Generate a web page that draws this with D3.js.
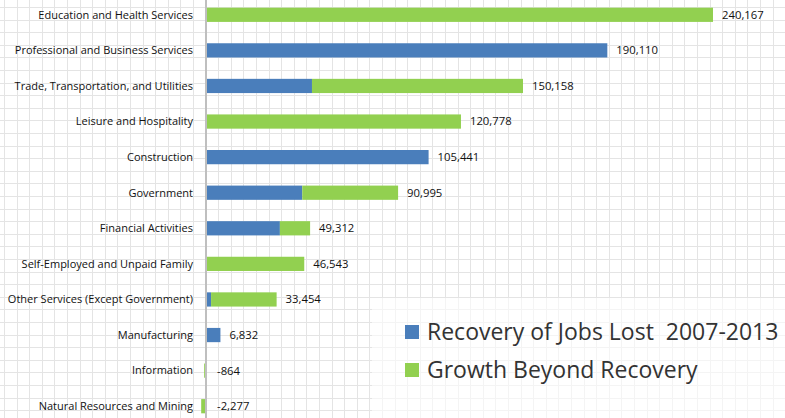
<!DOCTYPE html>
<html>
<head>
<meta charset="utf-8">
<script src="https://cdn.jsdelivr.net/npm/d3@7"></script>
<style>
  body { margin: 0; background: #fff; }
  svg { display: block; font-family: "Open Sans", "Noto Sans", sans-serif; }
  .legend text { white-space: pre; }
</style>
</head>
<body>
<script>
// industries, top to bottom
const categories = [
  "Education and Health Services",
  "Professional and Business Services",
  "Trade, Transportation, and Utilities",
  "Leisure and Hospitality",
  "Construction",
  "Government",
  "Financial Activities",
  "Self-Employed and Unpaid Family",
  "Other Services (Except Government)",
  "Manufacturing",
  "Information",
  "Natural Resources and Mining"
];
// blue part: recovery of jobs lost 2007-2013
const recovery = [0, 190110, 50200, 0, 105441, 45600, 35000, 0, 2400, 6832, 0, 0];
// green part: growth beyond recovery
const growth = [240167, 0, 99958, 120778, 0, 45395, 14312, 46543, 31054, 0, -864, -2277];
const totals = [240167, 190110, 150158, 120778, 105441, 90995, 49312, 46543, 33454, 6832, -864, -2277];
const seriesNames = ["Recovery of Jobs Lost  2007-2013", "Growth Beyond Recovery"];
const colors = ["#4a7ebb", "#92d050"];

const width = 785, height = 418;
const svg = d3.select("body").append("svg")
  .attr("width", width)
  .attr("height", height);

// excel-like sheet grid in the background
const cell = 12.6;
const grid = svg.append("g").attr("stroke", "#e4e4e4").attr("stroke-width", 1);
grid.selectAll("line.v")
  .data(d3.range(4, width, cell))
  .join("line")
  .attr("x1", d => Math.round(d) + 0.5).attr("x2", d => Math.round(d) + 0.5)
  .attr("y1", 0).attr("y2", height);
grid.selectAll("line.h")
  .data(d3.range(7, height, cell))
  .join("line")
  .attr("x1", 0).attr("x2", width)
  .attr("y1", d => Math.round(d) + 0.5).attr("y2", d => Math.round(d) + 0.5);

const x = d3.scaleLinear()
  .domain([0, 240167])
  .range([206, 713]);

const y = d3.scaleBand()
  .domain(categories)
  .range([-3, 424])
  .paddingInner(0.6)
  .paddingOuter(0.3);

const rows = categories.map((c, i) => ({
  cat: c,
  parts: [
    { s: 0, x0: 0, x1: recovery[i] },
    { s: 1, x0: recovery[i], x1: recovery[i] + growth[i] }
  ],
  total: totals[i]
}));

const bars = svg.append("g");
bars.selectAll("g")
  .data(rows)
  .join("g")
  .selectAll("rect")
  .data(d => d.parts.filter(p => p.x1 !== p.x0).map(p => ({ ...p, cat: d.cat })))
  .join("rect")
  .attr("x", d => x(Math.min(d.x0, d.x1)))
  .attr("width", d => Math.abs(x(d.x1) - x(d.x0)))
  .attr("y", d => y(d.cat))
  .attr("height", y.bandwidth())
  .attr("fill", d => colors[d.s]);

// vertical axis line
svg.append("line")
  .attr("x1", x(0)).attr("x2", x(0))
  .attr("y1", 0).attr("y2", height)
  .attr("stroke", "#bfbfbf")
  .attr("stroke-width", 2);

// category labels
svg.append("g")
  .selectAll("text")
  .data(categories)
  .join("text")
  .attr("x", 193)
  .attr("y", d => y(d) + y.bandwidth() / 2)
  .attr("dy", "0.35em")
  .attr("text-anchor", "end")
  .attr("font-size", 11)
  .attr("fill", "#111")
  .text(d => d);

// value labels (plain hyphen for negatives, like the original)
const fmt = v => d3.format(",")(v).replace("\u2212", "-");
svg.append("g")
  .selectAll("text")
  .data(rows)
  .join("text")
  .attr("x", d => d.total < 0 ? x(0) + 11 : x(d.total) + 9)
  .attr("y", d => y(d.cat) + y.bandwidth() / 2)
  .attr("dy", "0.35em")
  .attr("font-size", 11.3)
  .attr("fill", "#111")
  .text(d => fmt(d.total));

// legend box with faded grid
const legend = svg.append("g").attr("class", "legend");
legend.append("rect")
  .attr("x", 372).attr("y", 298)
  .attr("width", width - 372).attr("height", height - 298)
  .attr("fill", "#fff")
  .attr("fill-opacity", 0.6);

const items = legend.selectAll("g")
  .data(seriesNames)
  .join("g")
  .attr("transform", (d, i) => `translate(405,${325 + i * 38})`);
items.append("rect")
  .attr("width", 14).attr("height", 14)
  .attr("fill", (d, i) => colors[i]);
items.append("text")
  .attr("x", 22)
  .attr("y", 7)
  .attr("dy", "0.35em")
  .attr("font-size", 23)
  .attr("fill", "#333")
  .text(d => d);
</script>
</body>
</html>
